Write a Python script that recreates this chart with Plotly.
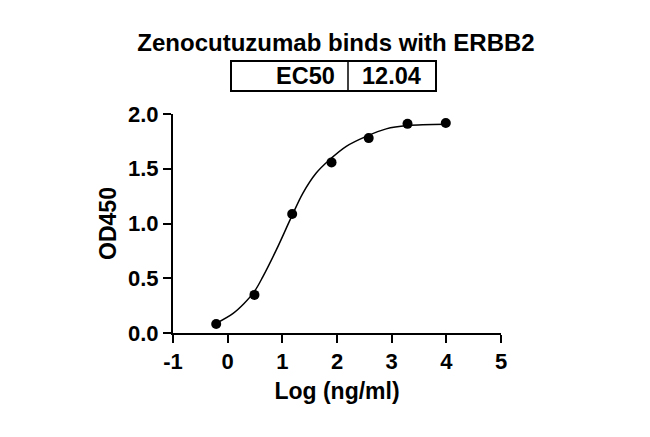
import plotly.graph_objects as go

# measured points
log_conc = [-0.21, 0.49, 1.18, 1.90, 2.58, 3.29, 3.99]
od450 = [0.082, 0.348, 1.086, 1.558, 1.78, 1.91, 1.918]

# fitted curve
fit_x = [-0.21, 0.10, 0.30, 0.49, 0.645, 0.89, 1.165, 1.377, 1.62, 1.865, 2.17, 2.535, 2.90, 3.29, 3.99]
fit_y = [0.089, 0.18, 0.27, 0.38, 0.515, 0.759, 1.058, 1.278, 1.461, 1.583, 1.705, 1.796, 1.864, 1.894, 1.906]

x_ticks = [-1, 0, 1, 2, 3, 4, 5]
x_tick_text = ['-1', '0', '1', '2', '3', '4', '5']
y_ticks = [0.0, 0.5, 1.0, 1.5, 2.0]
y_tick_text = ['0.0', '0.5', '1.0', '1.5', '2.0']

ec50_label = 'EC50'
ec50_value = '12.04'

FONT = 'Liberation Sans, Arial, sans-serif'

# page body has an 8px margin, so the figure is a bit smaller than the window
W, H = 642, 429
L, R, T, B = 165, 149, 106, 104
PW, PH = W - L - R, H - T - B

def px(x):
    # window pixel -> paper x
    return (x - 8 - L) / PW

def py(y):
    # window pixel -> paper y
    return (H - B - (y - 8)) / PH

def bold(size):
    return dict(family=FONT, size=size, color='black', weight='bold')

fig = go.Figure()
fig.add_trace(go.Scatter(
    x=fit_x, y=fit_y, mode='lines',
    line=dict(color='black', width=1.5, shape='spline', smoothing=1.0),
    hoverinfo='skip'
))
fig.add_trace(go.Scatter(
    x=log_conc, y=od450, mode='markers',
    marker=dict(color='black', size=10),
    cliponaxis=False
))

axis_common = dict(
    showline=True, linecolor='black', linewidth=2,
    ticks='outside', ticklen=8, tickwidth=2, tickcolor='black',
    showgrid=False, zeroline=False, automargin=False,
    tickfont=bold(22),
    title_font=bold(23),
)

fig.update_xaxes(
    range=[-1, 5], tickvals=x_ticks, ticktext=x_tick_text,
    title_text='Log (ng/ml)', title_standoff=9,
    **axis_common
)
fig.update_yaxes(
    range=[0, 2], tickvals=y_ticks, ticktext=y_tick_text,
    title_text='OD450', title_standoff=5,
    **axis_common
)

# EC50 box above the plot
fig.add_shape(type='rect', xref='paper', yref='paper',
              x0=px(231), x1=px(436), y0=py(91), y1=py(61),
              line=dict(color='black', width=2))
fig.add_shape(type='line', xref='paper', yref='paper',
              x0=px(348), x1=px(348), y0=py(91), y1=py(61),
              line=dict(color='black', width=1.5))

fig.add_annotation(x=px(337), y=py(76), xref='paper', yref='paper',
                   text=ec50_label, showarrow=False, xanchor='right', yanchor='middle',
                   font=bold(23.5))
fig.add_annotation(x=px(391), y=py(76), xref='paper', yref='paper',
                   text=ec50_value, showarrow=False, xanchor='center', yanchor='middle',
                   font=bold(23.5))

fig.update_layout(
    width=W, height=H,
    margin=dict(l=L, r=R, t=T, b=B),
    paper_bgcolor='white', plot_bgcolor='white',
    showlegend=False,
    title=dict(text='Zenocutuzumab binds with ERBB2', x=px(336), xanchor='center',
               xref='paper', y=1 - (43 - 8) / H, yanchor='middle',
               font=bold(24)),
)

fig.write_html('out.html')
